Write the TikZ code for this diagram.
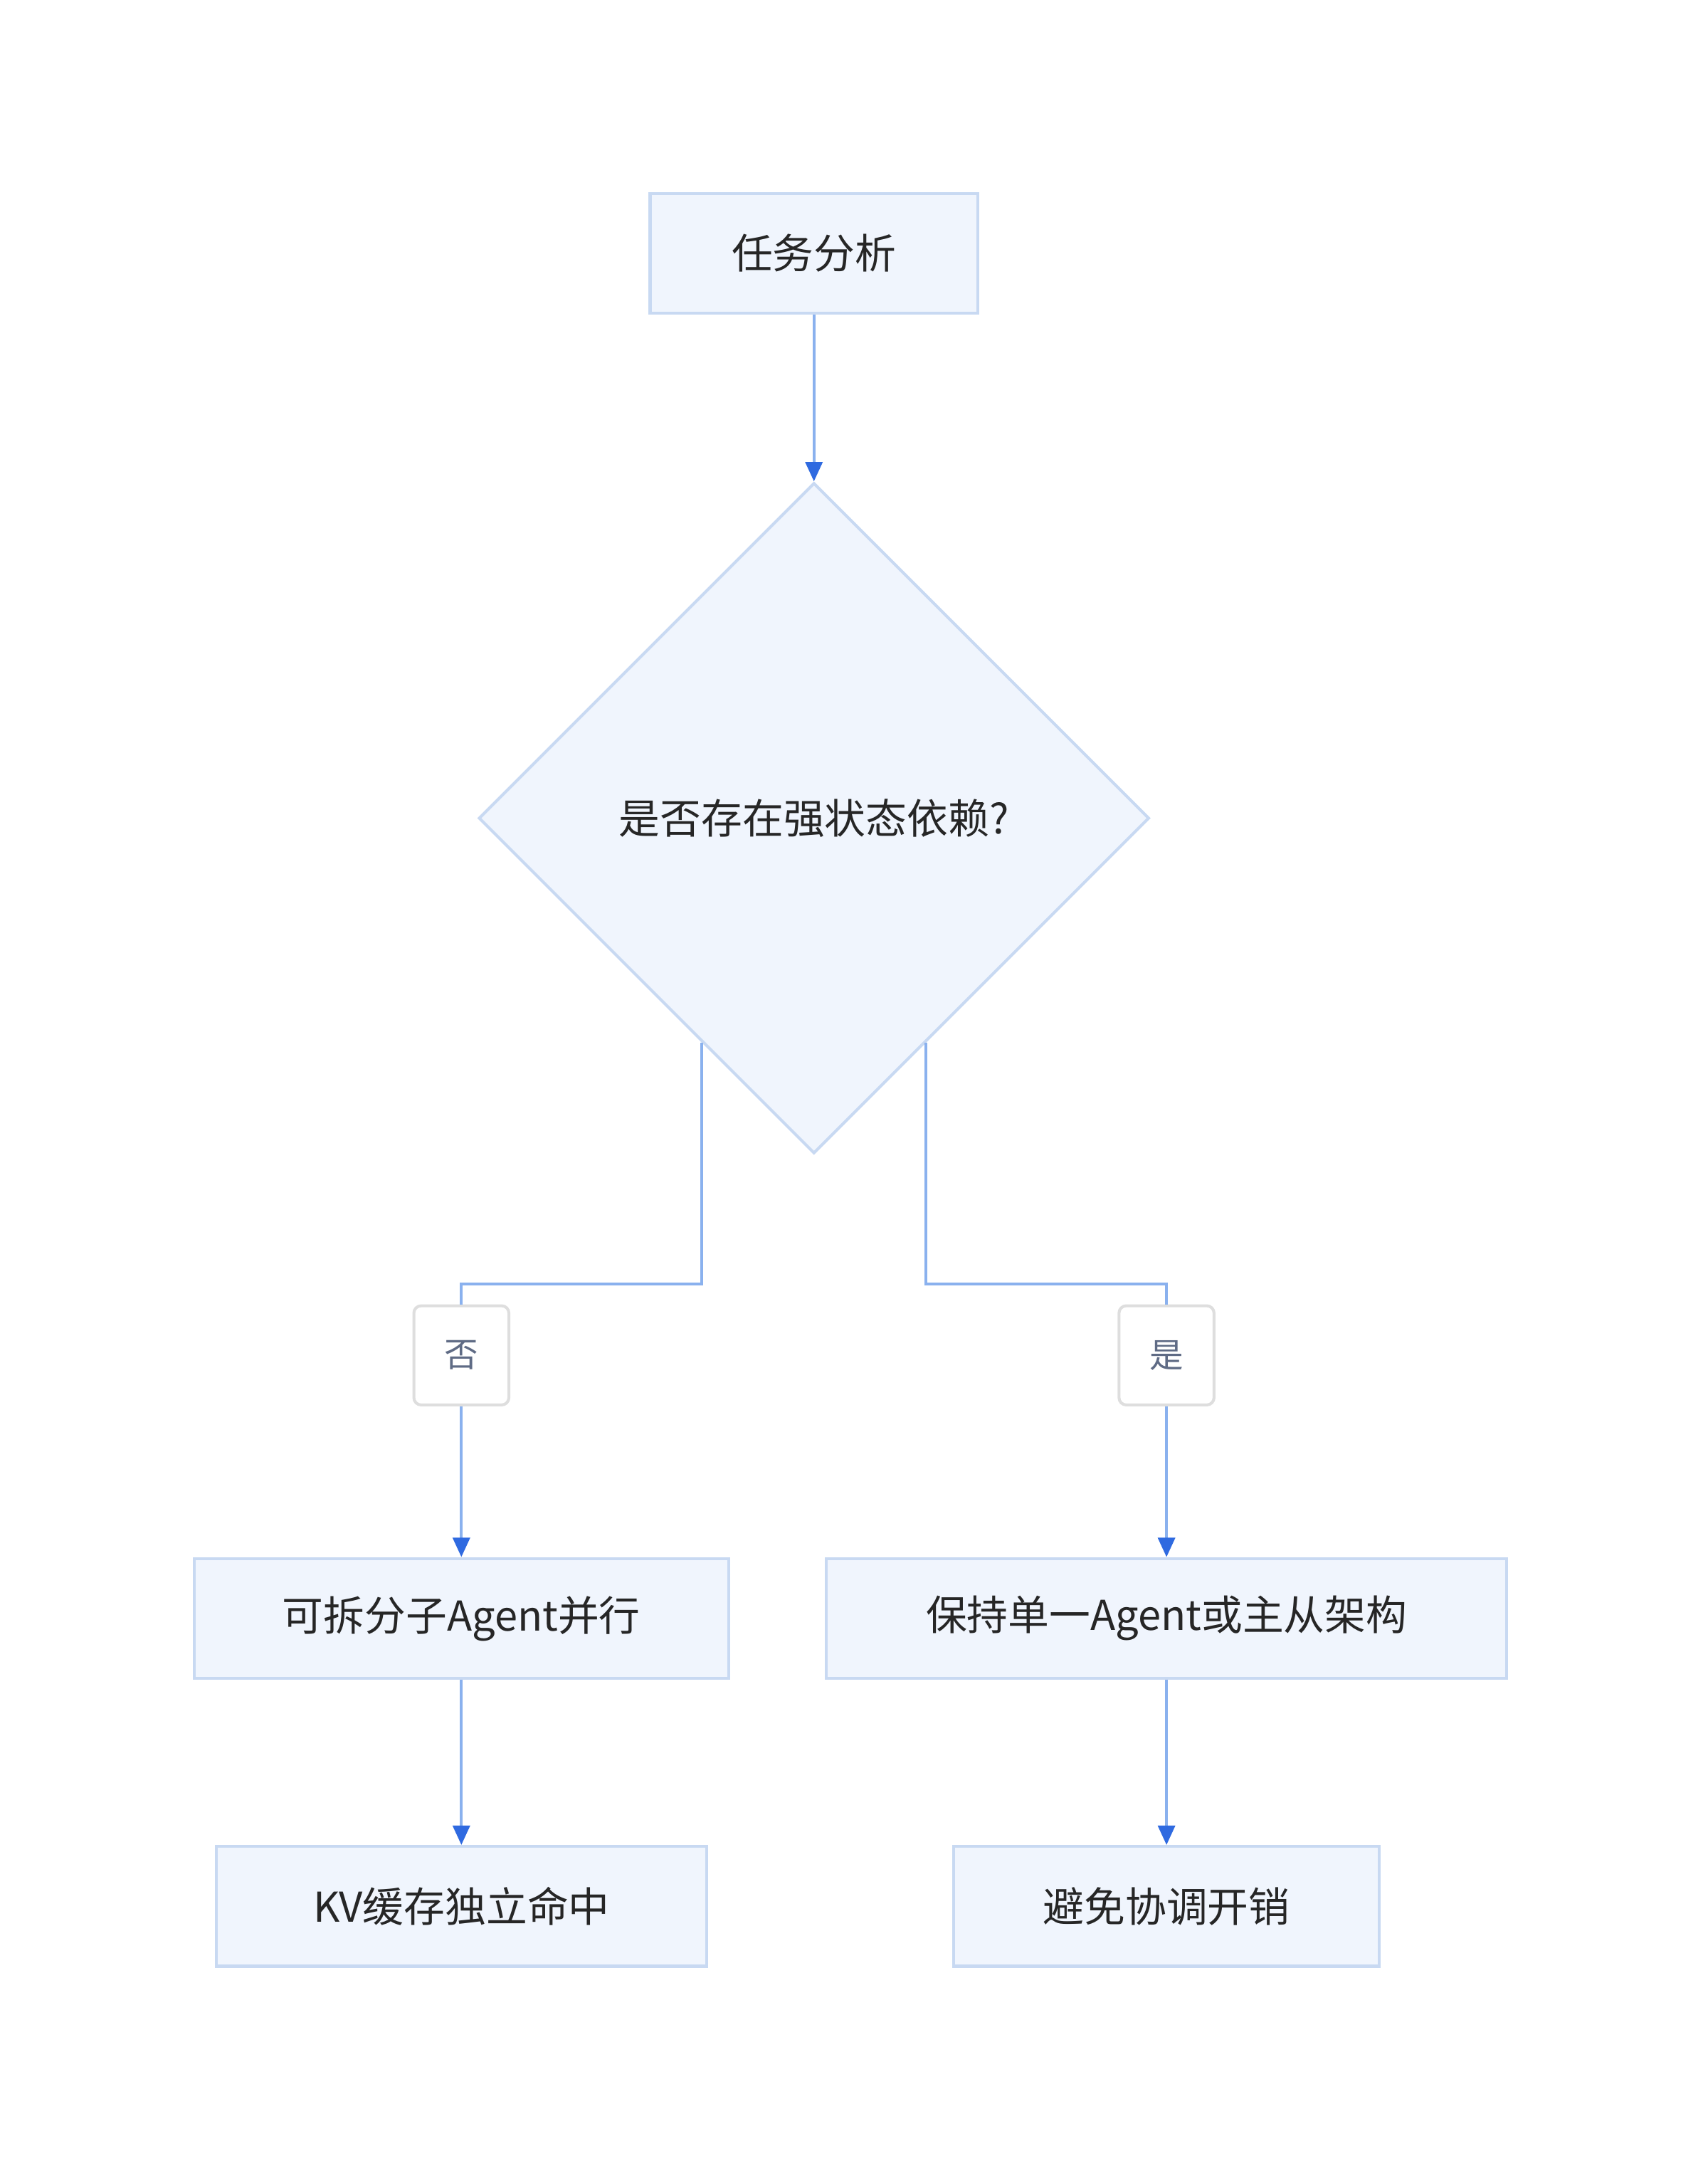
\documentclass[tikz,border=0pt]{standalone}
\usepackage{fontspec}
\setmainfont{Noto Sans CJK SC}
\usetikzlibrary{shapes.geometric,arrows.meta,calc}
\definecolor{boxfill}{HTML}{F0F5FD}
\definecolor{boxline}{HTML}{C8D9F2}
\definecolor{linkline}{HTML}{8AB1EE}
\definecolor{tipblue}{HTML}{2F6AE0}
\definecolor{lblgray}{HTML}{5F6B85}
\tikzset{
  flowbox/.style={draw=boxline, line width=1.2pt, fill=boxfill, inner sep=0pt, font=\fontsize{17}{20}\selectfont, text=black!85},
  branchlbl/.style={draw=black!13, line width=1.2pt, fill=white, rounded corners=3pt, inner sep=0pt,
    minimum width=1.38cm, minimum height=1.44cm, font=\fontsize{14}{16}\selectfont, text=lblgray},
  link/.style={draw=linkline, line width=1.2pt},
  flowarrow/.style={link, -{Triangle[color=tipblue, length=8pt, width=7pt]}}
}
\begin{document}
\begin{tikzpicture}[x=0.02cm, y=-0.02cm]
				\useasboundingbox (0,0) rectangle (1240,1574);
				% Start and decision
				\node[flowbox, minimum width=4.76cm, minimum height=1.74cm] (task) at (591,184) {任务分析};
				\node[flowbox, diamond, aspect=1, minimum width=9.74cm, minimum height=9.74cm] (dep) at (591,594) {是否存在强状态依赖?};

				% Branch labels
				\node[branchlbl] (no) at (335,984) {否};
				\node[branchlbl] (yes) at (847,984) {是};

				% Outcomes
				\node[flowbox, minimum width=7.76cm, minimum height=1.74cm] (split) at (335,1175) {可拆分子Agent并行};
				\node[flowbox, minimum width=9.88cm, minimum height=1.74cm] (single) at (847,1175) {保持单一Agent或主从架构};
				\node[flowbox, minimum width=7.12cm, minimum height=1.74cm] (kv) at (335,1384) {KV缓存独立命中};
				\node[flowbox, minimum width=6.18cm, minimum height=1.74cm] (cost) at (847,1384) {避免协调开销};

				% Connectors
				\coordinate (dl) at ($(dep.west)!0.667!(dep.south)$);
				\coordinate (dr) at ($(dep.east)!0.667!(dep.south)$);
				\draw[flowarrow] (task) -- (dep.north);
				\draw[link] (dl) -- ($(dl)+(0,175)$) -| (no.north);
				\draw[link] (dr) -- ($(dr)+(0,175)$) -| (yes.north);
				\draw[flowarrow] (no) -- (split);
				\draw[flowarrow] (yes) -- (single);
				\draw[flowarrow] (split) -- (kv);
				\draw[flowarrow] (single) -- (cost);
\end{tikzpicture}
\end{document}
